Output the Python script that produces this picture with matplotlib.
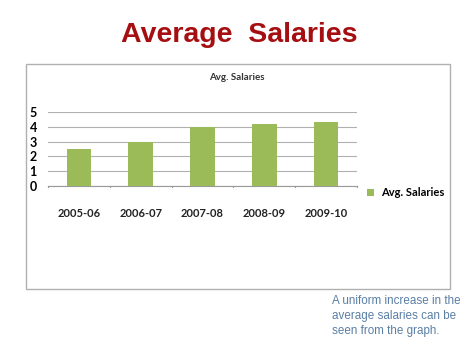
import matplotlib.pyplot as plt
from matplotlib.patches import Rectangle

years = ['2005-06', '2006-07', '2007-08', '2008-09', '2009-10']
salaries = [2.5, 3.0, 4.0, 4.2, 4.3]
yticks = [0, 1, 2, 3, 4, 5]

W, H = 474, 354
green = '#9BBB59'

fig = plt.figure(figsize=(W / 100, H / 100), dpi=100)
fig.patch.set_facecolor('white')

def fx(px):
    return px / W

def fy(py):
    return 1 - py / H

# chart frame
fig.patches.append(Rectangle((fx(26), fy(289)), fx(450) - fx(26), fy(64) - fy(289),
                             transform=fig.transFigure, fill=False,
                             edgecolor='#b0b0b0', linewidth=1.0))

fig.text(fx(239), fy(35), 'Average  Salaries', ha='center', va='center',
         fontsize=20.5, fontweight='bold', color='#A50F12', family='Liberation Sans')
fig.text(fx(237), fy(77), 'Avg. Salaries', ha='center', va='center',
         fontsize=7, fontweight='bold', color='#333333', family='Lato')

ax = fig.add_axes([fx(48), fy(186), fx(357) - fx(48), fy(112) - fy(186)])
x = range(len(years))
ax.bar(x, salaries, width=0.4, color=green, label='Avg. Salaries', zorder=3)
ax.set_xlim(-0.5, len(years) - 0.5)
ax.set_ylim(0, 5)
ax.set_yticks(yticks)
ax.set_yticklabels([str(t) for t in yticks], fontsize=9, fontweight='bold', family='Lato')
ax.set_xticks(list(x))
ax.set_xticklabels(years, fontsize=8, fontweight='bold', family='Lato', color='#222222')
ax.tick_params(axis='x', length=0, pad=16)
ax.tick_params(axis='y', length=0, pad=8)
for b in [i - 0.5 for i in range(len(years) + 1)]:
    ax.plot([b, b], [0, -0.1], color='#999999', lw=0.8, clip_on=False)
ax.grid(axis='y', color='#b0b0b0', linewidth=0.8, zorder=0)
for s in ['top', 'right', 'left']:
    ax.spines[s].set_visible(False)
ax.spines['bottom'].set_color('#999999')
ax.spines['bottom'].set_linewidth(0.8)

leg = fig.legend(loc='center left', bbox_to_anchor=(fx(357), fy(193)), frameon=False,
                 prop={'family': 'Lato', 'weight': 'bold', 'size': 8},
                 handlelength=0.6, handleheight=0.6, handletextpad=0.7)

fig.text(fx(332), fy(316), 'A uniform increase in the\naverage salaries can be\nseen from the graph.',
         ha='left', va='center', fontsize=8.4, color='#5A7FA5', family='Liberation Sans',
         linespacing=1.3)

fig.savefig('out.png', dpi=100)
